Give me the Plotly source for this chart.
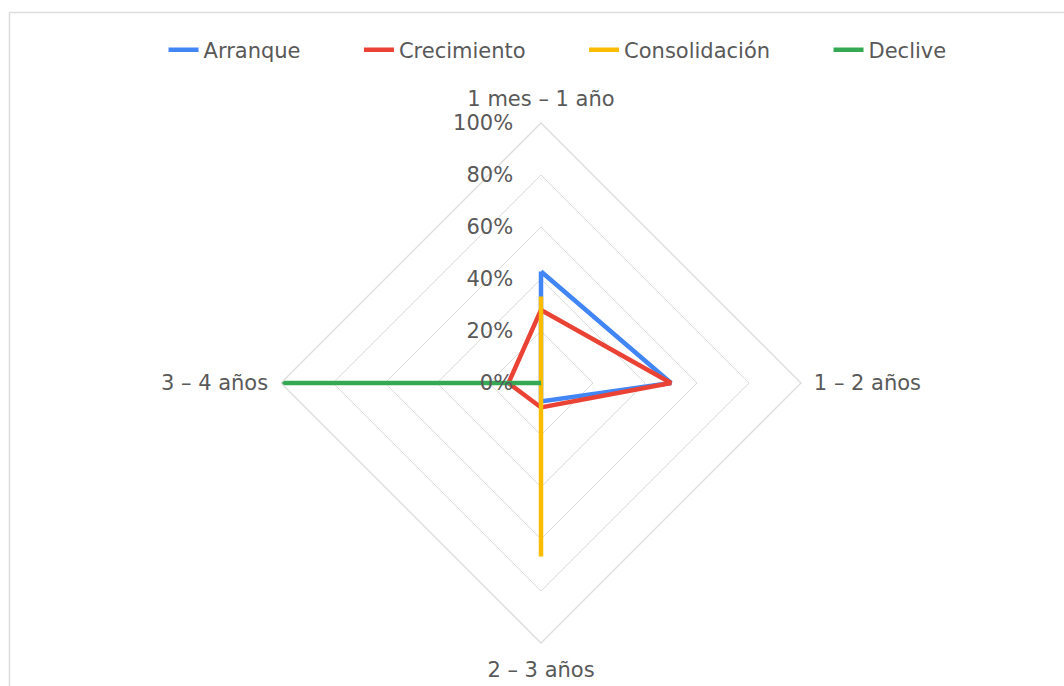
import plotly.graph_objects as go

# Antigüedad de la empresa (ejes del radar)
categorias = ["1 mes – 1 año", "1 – 2 años", "2 – 3 años", "3 – 4 años"]

# Porcentaje por etapa del ciclo de vida
arranque = [42.9, 50.0, 7.1, 0.0]
crecimiento = [28.1, 50.0, 9.4, 12.5]
consolidacion = [33.3, 0.0, 66.7, 0.0]
declive = [0.0, 0.0, 0.0, 100.0]

# Marcas del eje radial
ticks_r = [0, 20, 40, 60, 80, 100]
etiquetas_r = ["0%", "20%", "40%", "60%", "80%", "100%"]

series = [
    ("Arranque", arranque, "#4285F4"),
    ("Crecimiento", crecimiento, "#EA4335"),
    ("Consolidación", consolidacion, "#FBBC04"),
    ("Declive", declive, "#34A853"),
]

FONT = "DejaVu Sans, Arial, sans-serif"
GRIS = "#595959"
REJILLA = "#dcdcdc"
TAM = 21
RELLENO = "\u00a0" * 8  # separación entre entradas de la leyenda

fig = go.Figure()
for i, (nombre, valores, color) in enumerate(series):
    fig.add_trace(go.Scatterpolar(
        r=valores + valores[:1],
        theta=categorias + categorias[:1],
        mode="lines",
        name=nombre + (RELLENO if i < len(series) - 1 else ""),
        line=dict(color=color, width=4.5),
        hoverinfo="skip",
    ))

W, H = 1064, 686
cx, cy, rad = 541, 383, 260

fig.update_layout(
    width=W,
    height=H,
    margin=dict(l=0, r=0, t=0, b=0),
    paper_bgcolor="white",
    plot_bgcolor="white",
    font=dict(family=FONT, size=TAM, color=GRIS),
    showlegend=True,
    legend=dict(
        orientation="h",
        x=0.524,
        xanchor="center",
        y=1 - 50 / H,
        yanchor="middle",
        font=dict(family=FONT, size=TAM, color=GRIS),
        itemwidth=30,
    ),
    polar=dict(
        domain=dict(
            x=[(cx - rad) / W, (cx + rad) / W],
            y=[1 - (cy + rad) / H, 1 - (cy - rad) / H],
        ),
        bgcolor="white",
        gridshape="linear",
        radialaxis=dict(
            range=[0, 100],
            tickvals=ticks_r,
            ticktext=etiquetas_r,
            angle=90,
            tickangle=90,
            side="counterclockwise",
            showline=False,
            ticks="outside",
            ticklen=20,
            tickcolor="rgba(0,0,0,0)",
            gridcolor=REJILLA,
            gridwidth=1.3,
            tickfont=dict(family=FONT, size=TAM, color=GRIS),
            layer="above traces",
        ),
        angularaxis=dict(
            rotation=90,
            direction="clockwise",
            showgrid=False,
            showline=True,
            linecolor=REJILLA,
            linewidth=1.3,
            ticks="outside",
            ticklen=8,
            tickcolor="rgba(0,0,0,0)",
            tickfont=dict(family=FONT, size=TAM, color=GRIS),
        ),
    ),
    shapes=[
        dict(
            type="rect",
            xref="paper",
            yref="paper",
            x0=9.5 / W,
            x1=1.05,
            y0=-0.05,
            y1=1 - 12.5 / H,
            line=dict(color=REJILLA, width=1.5),
            fillcolor="rgba(0,0,0,0)",
            layer="below",
        )
    ],
)

fig.write_html("out.html")
